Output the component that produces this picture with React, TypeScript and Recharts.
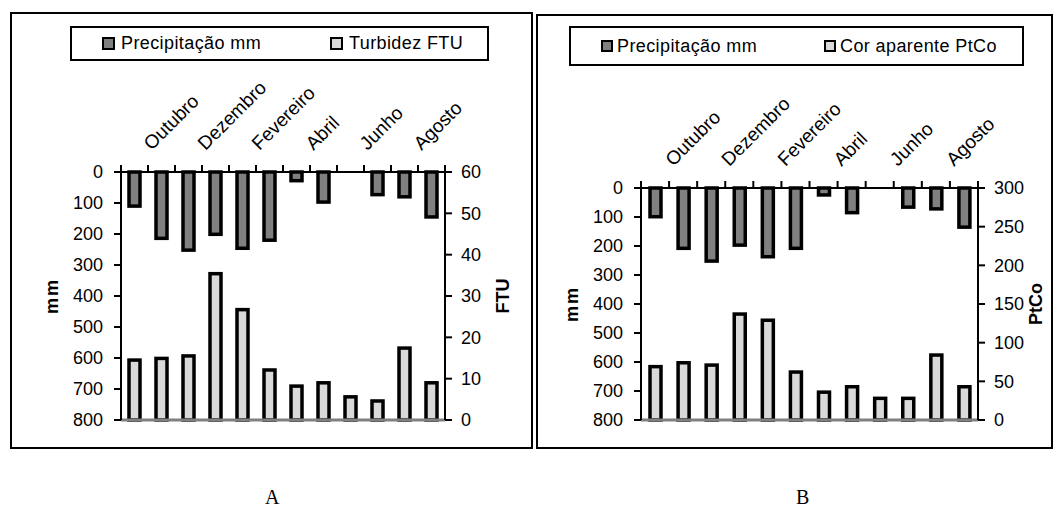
import { BarChart, Bar, XAxis, YAxis, Legend, ReferenceLine } from 'recharts';

// Meses do ciclo de monitoramento (set -> ago)
const meses = [
  'Setembro', 'Outubro', 'Novembro', 'Dezembro', 'Janeiro', 'Fevereiro',
  'Março', 'Abril', 'Maio', 'Junho', 'Julho', 'Agosto',
];

// Painel A: precipitação (mm) x turbidez (FTU)
const precipitacaoA = [110, 214, 252, 201, 246, 220, 28, 97, 0, 73, 80, 145];
const turbidez = [14.5, 14.9, 15.5, 35.4, 26.7, 12.1, 8.2, 9.0, 5.6, 4.6, 17.4, 9.0];

// Painel B: precipitação (mm) x cor aparente (PtCo)
const precipitacaoB = [99, 208, 252, 197, 237, 208, 24, 85, 0, 66, 72, 135];
const corAparente = [69, 74, 71, 137, 129, 62, 36, 43, 28, 28, 84, 43];

const mmTicks = [0, 100, 200, 300, 400, 500, 600, 700, 800];
const ftuTicks = [0, 10, 20, 30, 40, 50, 60];
const ptcoTicks = [0, 50, 100, 150, 200, 250, 300];

const FONT = '"Liberation Sans", Arial, sans-serif';

// barra com contorno preto grosso, estilo Excel
const BarraContorno = (props: any) => {
  const { x, y, width, height, fill } = props;
  if (!height) return null;
  const top = Math.min(y, y + height);
  return <rect x={x} y={top} width={width} height={Math.abs(height)} fill={fill} stroke="#000" strokeWidth={3.5} />;
};

const MonthTick = (props: any) => {
  const { x, index, bw, axisY } = props;
  const left = x - bw / 2;
  const px = x - 10;
  const py = axisY - 21;
  return (
    <g>
      <line x1={left} x2={left} y1={axisY} y2={axisY - 7} stroke="#000" strokeWidth={2} />
      {index === meses.length - 1 && (
        <line x1={x + bw / 2} x2={x + bw / 2} y1={axisY} y2={axisY - 7} stroke="#000" strokeWidth={2} />
      )}
      {index % 2 === 1 && (
        <text
          x={px}
          y={py}
          transform={`rotate(-45 ${px} ${py})`}
          textAnchor="start"
          fontSize={19}
          fontFamily={FONT}
          fill="#000"
        >
          {meses[index]}
        </text>
      )}
    </g>
  );
};

const LegendBox = (props: any) => {
  const { payload, itemX, iconSize, gap } = props;
  return (
    <div
      style={{
        position: 'relative',
        width: '100%',
        height: '100%',
        boxSizing: 'border-box',
        border: '2px solid #000',
        background: '#fff',
      }}
    >
      {(payload || []).map((entry: any, i: number) => (
        <div
          key={entry.value}
          style={{
            position: 'absolute',
            left: itemX[i],
            top: 0,
            bottom: 0,
            display: 'flex',
            alignItems: 'center',
            fontFamily: FONT,
            fontSize: 18,
            letterSpacing: 0.4,
            color: '#000',
            whiteSpace: 'nowrap',
          }}
        >
          <span
            style={{
              display: 'inline-block',
              width: iconSize,
              height: iconSize,
              boxSizing: 'border-box',
              border: '2.5px solid #000',
              background: entry.color,
              marginRight: gap,
            }}
          />
          {entry.value}
        </div>
      ))}
    </div>
  );
};

interface PainelProps {
  left: number;
  width: number;
  margin: { top: number; right: number; bottom: number; left: number };
  precipitacao: number[];
  valores: number[];
  nome: string;
  unidade: string;
  maximo: number;
  ticks: number[];
  legenda: { left: number; top: number; width: number; height: number; itemX: number[]; iconSize: number; gap: number };
}

const HEIGHT = 460;
const Y_LEFT_W = 80;
const Y_RIGHT_W = 70;

const Painel = ({ left, width, margin, precipitacao, valores, nome, unidade, maximo, ticks, legenda }: PainelProps) => {
  const data = meses.map((mes, i) => ({ mes, precip: precipitacao[i], valor: valores[i] }));
  const plotW = width - margin.left - margin.right - Y_LEFT_W - Y_RIGHT_W;
  const bw = plotW / meses.length;
  const axisY = margin.top + 100;
  const tickStyle = { fill: '#000', fontSize: 18, fontFamily: FONT };
  const titleStyle = { fill: '#000', fontSize: 18, fontWeight: 'bold', fontFamily: FONT };

  return (
    <div style={{ position: 'absolute', left, top: 0 }}>
      <BarChart width={width} height={HEIGHT} data={data} margin={margin}>
        <XAxis
          xAxisId="top"
          dataKey="mes"
          orientation="top"
          height={100}
          interval={0}
          tickLine={false}
          axisLine={{ stroke: '#000', strokeWidth: 2 }}
          tick={(p: any) => <MonthTick {...p} bw={bw} axisY={axisY} />}
        />
        <XAxis xAxisId="bottom" dataKey="mes" hide />
        <YAxis
          yAxisId="mm"
          orientation="left"
          reversed
          domain={[0, 800]}
          ticks={mmTicks}
          interval={0}
          width={Y_LEFT_W}
          tickSize={7}
          tickMargin={11}
          axisLine={{ stroke: '#000', strokeWidth: 2 }}
          tickLine={{ stroke: '#000', strokeWidth: 2 }}
          tick={tickStyle}
          label={{ value: 'mm', angle: -90, position: 'center', dx: -29, style: { ...titleStyle, letterSpacing: 2 } }}
        />
        <YAxis
          yAxisId="dir"
          orientation="right"
          domain={[0, maximo]}
          ticks={ticks}
          interval={0}
          width={Y_RIGHT_W}
          tickSize={7}
          tickMargin={9}
          axisLine={{ stroke: '#000', strokeWidth: 2 }}
          tickLine={{ stroke: '#000', strokeWidth: 2 }}
          tick={tickStyle}
          label={{ value: unidade, angle: -90, position: 'center', dx: 23, style: titleStyle }}
        />
        <ReferenceLine xAxisId="bottom" yAxisId="dir" y={0} stroke="#808080" strokeWidth={3} />
        <Bar
          xAxisId="top"
          yAxisId="mm"
          dataKey="precip"
          name="Precipitação mm"
          fill="#808080"
          barSize={11}
          shape={BarraContorno}
          isAnimationActive={false}
        />
        <Bar
          xAxisId="bottom"
          yAxisId="dir"
          dataKey="valor"
          name={nome}
          fill="#d9d9d9"
          barSize={11}
          shape={BarraContorno}
          isAnimationActive={false}
        />
        <Legend
          layout="horizontal"
          align="center"
          verticalAlign="middle"
          itemSorter="dataKey"
          wrapperStyle={{ left: legenda.left, top: legenda.top, width: legenda.width, height: legenda.height }}
          content={(p: any) => (
            <LegendBox payload={p.payload} itemX={legenda.itemX} iconSize={legenda.iconSize} gap={legenda.gap} />
          )}
        />
      </BarChart>
    </div>
  );
};

const frame = { position: 'absolute' as const, boxSizing: 'border-box' as const, border: '2px solid #000' };
const letra = {
  position: 'absolute' as const,
  fontFamily: '"Liberation Serif", "Times New Roman", serif',
  fontSize: 20,
  lineHeight: '24px',
};

export default function App() {
  return (
    <div style={{ position: 'absolute', left: 0, top: 0, width: 1060, height: 525, background: '#fff', overflow: 'hidden' }}>
      <div style={{ ...frame, left: 10, top: 12, width: 523, height: 437 }} />
      <div style={{ ...frame, left: 536, top: 14, width: 517, height: 435 }} />
      <Painel
        left={0}
        width={540}
        margin={{ top: 72, right: 25, bottom: 40, left: 41 }}
        precipitacao={precipitacaoA}
        valores={turbidez}
        nome="Turbidez FTU"
        unidade="FTU"
        maximo={60}
        ticks={ftuTicks}
        legenda={{ left: 70, top: 26, width: 419, height: 35, itemX: [30, 258], iconSize: 13, gap: 6 }}
      />
      <Painel
        left={530}
        width={530}
        margin={{ top: 88, right: 12, bottom: 40, left: 31 }}
        precipitacao={precipitacaoB}
        valores={corAparente}
        nome="Cor aparente PtCo"
        unidade="PtCo"
        maximo={300}
        ticks={ptcoTicks}
        legenda={{ left: 39, top: 26, width: 455, height: 40, itemX: [30, 253], iconSize: 12, gap: 4 }}
      />
      <div style={{ ...letra, left: 265, top: 485 }}>A</div>
      <div style={{ ...letra, left: 796, top: 485 }}>B</div>
    </div>
  );
}
